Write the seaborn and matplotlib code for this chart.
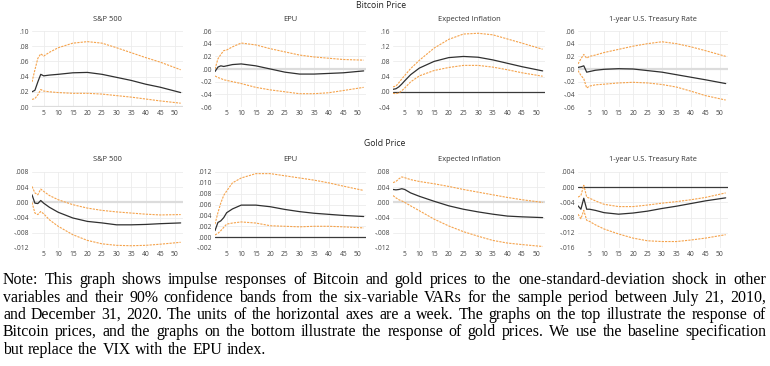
import numpy as np
import pandas as pd
import seaborn as sns
import matplotlib
matplotlib.use("Agg")
import matplotlib.pyplot as plt
from matplotlib.ticker import FuncFormatter, MultipleLocator

# horizons (weeks)
horizon = [1, 2, 3, 4, 5, 7, 10, 15, 20, 25, 30, 35, 40, 45, 52]

# Bitcoin price responses
btc_sp_irf = [0.020, 0.022, 0.033, 0.043, 0.041, 0.042, 0.043, 0.045, 0.0455, 0.043, 0.039, 0.035, 0.030, 0.026, 0.019]
btc_sp_up = [0.033, 0.049, 0.064, 0.070, 0.067, 0.072, 0.078, 0.084, 0.086, 0.084, 0.078, 0.0715, 0.065, 0.059, 0.049]
btc_sp_lo = [0.010, 0.011, 0.016, 0.023, 0.021, 0.020, 0.019, 0.018, 0.018, 0.017, 0.015, 0.013, 0.0105, 0.008, 0.005]

btc_epu_irf = [-0.004, 0.003, 0.005, 0.004, 0.005, 0.007, 0.008, 0.005, 0.0, -0.005, -0.008, -0.008, -0.007, -0.006, -0.003]
btc_epu_up = [0.0, 0.016, 0.023, 0.029, 0.030, 0.035, 0.041, 0.038, 0.032, 0.027, 0.022, 0.019, 0.017, 0.015, 0.014]
btc_epu_lo = [-0.011, -0.0135, -0.015, -0.017, -0.018, -0.020, -0.023, -0.029, -0.033, -0.036, -0.039, -0.039, -0.0375, -0.034, -0.029]

btc_inf_irf = [0.0065, 0.008, 0.013, 0.0205, 0.029, 0.045, 0.0625, 0.080, 0.090, 0.093, 0.091, 0.084, 0.075, 0.066, 0.055]
btc_inf_up = [0.013, 0.015, 0.024, 0.034, 0.043, 0.061, 0.083, 0.115, 0.138, 0.152, 0.154, 0.150, 0.139, 0.128, 0.112]
btc_inf_lo = [-0.004, -0.005, -0.003, 0.003, 0.010, 0.026, 0.042, 0.056, 0.064, 0.0695, 0.0695, 0.065, 0.058, 0.050, 0.041]

btc_tr_irf = [0.0025, 0.0035, 0.005, -0.005, -0.004, -0.002, -0.0005, 0.0005, 0.0, -0.0025, -0.005, -0.009, -0.013, -0.017, -0.023]
btc_tr_up = [0.008, 0.016, 0.023, 0.017, 0.020, 0.022, 0.026, 0.031, 0.036, 0.040, 0.043, 0.040, 0.035, 0.029, 0.020]
btc_tr_lo = [-0.0025, -0.010, -0.0155, -0.030, -0.027, -0.025, -0.024, -0.022, -0.021, -0.022, -0.0245, -0.0285, -0.035, -0.042, -0.049]

# Gold price responses
gold_sp_irf = [0.002, -0.0002, -0.0003, 0.0005, -0.0002, -0.0013, -0.0026, -0.0041, -0.005, -0.0054, -0.0059, -0.0059, -0.0058, -0.0056, -0.0054]
gold_sp_up = [0.0042, 0.0025, 0.002, 0.0035, 0.0029, 0.0018, 0.0007, -0.0006, -0.0015, -0.0021, -0.0025, -0.0028, -0.0031, -0.0033, -0.0032]
gold_sp_lo = [0.0, -0.0028, -0.0032, -0.0024, -0.003, -0.0046, -0.0063, -0.0085, -0.010, -0.0109, -0.0113, -0.0114, -0.0113, -0.011, -0.0105]

gold_epu_irf = [0.0012, 0.0027, 0.003, 0.0036, 0.0045, 0.0052, 0.0059, 0.0059, 0.0056, 0.0051, 0.0047, 0.0044, 0.0042, 0.004, 0.0038]
gold_epu_up = [0.0024, 0.0045, 0.0063, 0.0077, 0.0085, 0.010, 0.0109, 0.0117, 0.0117, 0.0113, 0.0109, 0.0105, 0.010, 0.0094, 0.0086]
gold_epu_lo = [0.0004, 0.0007, 0.0012, 0.0018, 0.0024, 0.0026, 0.0028, 0.0026, 0.0021, 0.002, 0.0019, 0.002, 0.002, 0.0019, 0.0017]

gold_inf_irf = [0.0034, 0.0033, 0.0034, 0.0036, 0.0034, 0.0025, 0.0016, 0.0003, -0.0009, -0.0018, -0.0025, -0.0031, -0.0036, -0.0038, -0.004]
gold_inf_up = [0.0052, 0.0055, 0.0062, 0.0067, 0.0065, 0.006, 0.0055, 0.0049, 0.0042, 0.0034, 0.0027, 0.002, 0.0013, 0.0007, 0.0]
gold_inf_lo = [0.0018, 0.0012, 0.0007, 0.0004, 0.0, -0.0009, -0.0022, -0.0044, -0.0062, -0.0077, -0.0089, -0.010, -0.0107, -0.0111, -0.0116]

gold_tr_irf = [-0.0049, -0.0058, -0.0029, -0.0058, -0.0058, -0.0061, -0.0067, -0.0071, -0.0068, -0.0063, -0.0056, -0.005, -0.0043, -0.0036, -0.0028]
gold_tr_up = [-0.0026, -0.0022, 0.0005, -0.0026, -0.0029, -0.0036, -0.0045, -0.0051, -0.0051, -0.0047, -0.0042, -0.0038, -0.0033, -0.0027, -0.0015]
gold_tr_lo = [-0.0071, -0.0083, -0.0061, -0.0087, -0.009, -0.0099, -0.011, -0.0123, -0.0134, -0.0141, -0.0143, -0.0143, -0.0139, -0.0134, -0.0125]

titles = ["S&P 500", "EPU", "Expected Inflation", "1-year U.S. Treasury Rate"]

# (irf, upper, lower, ymin, ymax, step, decimals, dark zero line)
panels = [
    (btc_sp_irf, btc_sp_up, btc_sp_lo, 0.0, 0.10, 0.02, 2, False),
    (btc_epu_irf, btc_epu_up, btc_epu_lo, -0.06, 0.06, 0.02, 2, False),
    (btc_inf_irf, btc_inf_up, btc_inf_lo, -0.04, 0.16, 0.04, 2, True),
    (btc_tr_irf, btc_tr_up, btc_tr_lo, -0.06, 0.06, 0.02, 2, False),
    (gold_sp_irf, gold_sp_up, gold_sp_lo, -0.012, 0.008, 0.004, 3, False),
    (gold_epu_irf, gold_epu_up, gold_epu_lo, -0.002, 0.012, 0.002, 3, True),
    (gold_inf_irf, gold_inf_up, gold_inf_lo, -0.012, 0.008, 0.004, 3, False),
    (gold_tr_irf, gold_tr_up, gold_tr_lo, -0.016, 0.004, 0.004, 3, True),
]

note_lines = [
    "Note: This graph shows impulse responses of Bitcoin and gold prices to the one-standard-deviation shock in other",
    "variables and their 90% confidence bands from the six-variable VARs for the sample period between July 21, 2010,",
    "and December 31, 2020. The units of the horizontal axes are a week. The graphs on the top illustrate the response of",
    "Bitcoin prices, and the graphs on the bottom illustrate the response of gold prices. We use the baseline specification",
    "but replace the VIX with the EPU index.",
]

sns.set_style("white")
plt.rcParams["font.family"] = ["Open Sans", "DejaVu Sans"]

W, H = 770, 366
fig = plt.figure(figsize=(W / 100, H / 100), dpi=100)

lefts = [32, 215, 393, 578]
widths = [151, 151, 152, 150]
row_top = [31, 172]
ax_h = 76

orange = "#f5a34c"


def make_fmt(d):
    def f(v, pos):
        s = f"{v:.{d}f}"
        if s.startswith("-") and float(s) == 0:
            s = s[1:]
        return s.replace("0.", ".", 1)
    return f


for i, (irf, up, lo, y0, y1, step, dec, dark) in enumerate(panels):
    r, c = divmod(i, 4)
    ax = fig.add_axes([lefts[c] / W, 1 - (row_top[r] + ax_h) / H, widths[c] / W, ax_h / H])
    ax.set_xlim(1, 52.8)
    ax.set_ylim(y0, y1)
    ax.xaxis.set_major_locator(MultipleLocator(5))
    ax.yaxis.set_major_locator(MultipleLocator(step))
    ax.yaxis.set_major_formatter(FuncFormatter(make_fmt(dec)))
    ax.grid(True, color="#ececec", lw=0.6)
    for s in ax.spines.values():
        s.set_visible(False)
    ax.tick_params(length=0, labelsize=4.9, colors="#444444", pad=2)
    if dark:
        ax.axhline(0, color="#3a3a3a", lw=0.9, zorder=2)
    else:
        ax.axhline(0, color="#dcdcdc", lw=1.6, zorder=1)
    sns.lineplot(x=horizon, y=up, ax=ax, color=orange, lw=0.8, linestyle=(0, (2, 1)))
    sns.lineplot(x=horizon, y=lo, ax=ax, color=orange, lw=0.8, linestyle=(0, (2, 1)))
    sns.lineplot(x=horizon, y=irf, ax=ax, color="#303030", lw=0.9)
    ax.set_xlabel("")
    ax.set_ylabel("")
    off = 0.145 if r == 0 else 0.17
    ax.text(0.5, 1 + off, titles[c], transform=ax.transAxes, ha="center", va="center",
            fontsize=5.4, color="#333333")

fig.text(0.495, 1 - 5 / H, "Bitcoin Price", ha="center", va="center", fontsize=6.2, color="#222222")
fig.text(0.5, 1 - 143 / H, "Gold Price", ha="center", va="center", fontsize=6.2, color="#222222")

# justified note text
renderer = fig.canvas.get_renderer()
line_y = [280, 297.5, 315, 332.5, 350]
x0, x1 = 3, 766
for k, line in enumerate(note_lines):
    words = line.split()
    texts = [fig.text(0, 1 - line_y[k] / H, w, fontsize=11.4, family="Liberation Serif",
                      va="center", ha="left", color="black") for w in words]
    ws = [t.get_window_extent(renderer).width for t in texts]
    if k < len(note_lines) - 1:
        gap = (x1 - x0 - sum(ws)) / (len(words) - 1)
    else:
        gap = 4.6
    x = x0
    for t, w in zip(texts, ws):
        t.set_x(x / W)
        x += w + gap

fig.savefig("out.png", dpi=100)
